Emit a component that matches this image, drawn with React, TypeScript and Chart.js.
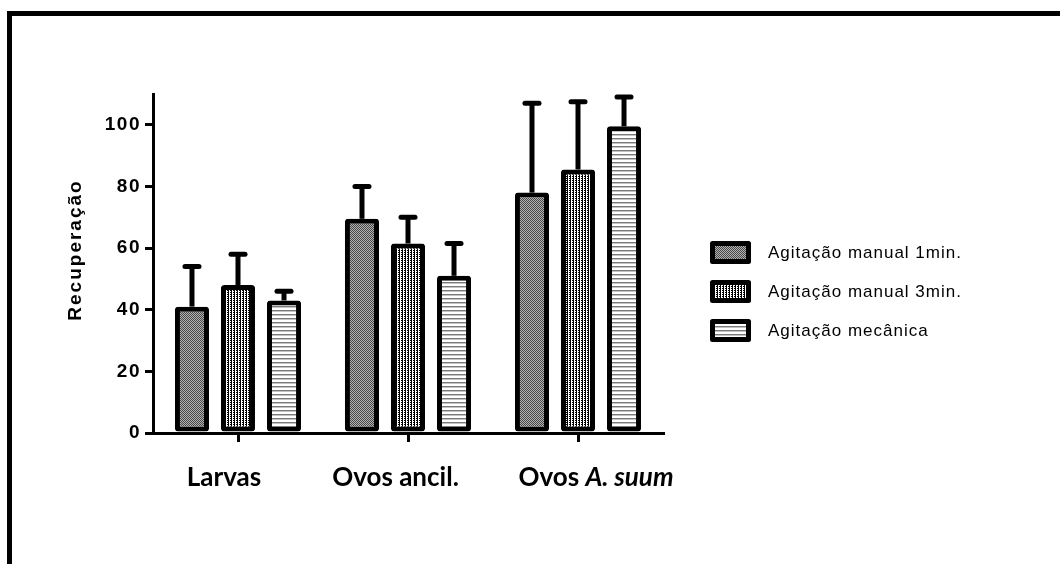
import React, { useEffect, useRef } from 'react';
import { Chart, registerables } from 'chart.js';

Chart.register(...registerables);

// ---------- data ----------
const categories = ['Larvas', 'Ovos ancil.', 'Ovos A. suum'];
const categoryLabelParts = [
  [{ text: 'Larvas', italic: false }],
  [{ text: 'Ovos ancil.', italic: false }],
  [
    { text: 'Ovos ', italic: false },
    { text: 'A. suum', italic: true },
  ],
];
const seriesLabels = ['Agitação manual 1min.', 'Agitação manual 3min.', 'Agitação mecânica'];
const manual1 = [41, 69.5, 78];
const manual3 = [48, 61.5, 85.5];
const mecanica = [43, 51, 99.5];
const manual1Err = [13, 10.5, 29];
const manual3Err = [10, 8.5, 22];
const mecanicaErr = [3, 10.5, 9.5];
const yTicks = [0, 20, 40, 60, 80, 100];
const yTitle = 'Recuperação';

const seriesValues = [manual1, manual3, mecanica];
const seriesErrors = [manual1Err, manual3Err, mecanicaErr];

// ---------- patterns ----------
function makePattern(w: number, h: number, cells: string[][]): CanvasPattern | string {
  const c = document.createElement('canvas');
  c.width = w;
  c.height = h;
  const g = c.getContext('2d')!;
  for (let y = 0; y < h; y++) {
    for (let x = 0; x < w; x++) {
      g.fillStyle = cells[y][x];
      g.fillRect(x, y, 1, 1);
    }
  }
  const p = g.createPattern(c, 'repeat');
  return p || '#888';
}

const FONT = '"Liberation Sans", Arial, sans-serif';

const decorPlugin = {
  id: 'decor',
  beforeDraw(chart: any) {
    const ctx = chart.ctx as CanvasRenderingContext2D;
    ctx.save();
    ctx.strokeStyle = '#000';
    ctx.lineWidth = 5;
    ctx.lineCap = 'butt';
    ctx.lineJoin = 'miter';
    ctx.beginPath();
    ctx.moveTo(9.5, chart.height);
    ctx.lineTo(9.5, 13.5);
    ctx.lineTo(chart.width, 13.5);
    ctx.stroke();
    ctx.restore();
    (ctx as any).letterSpacing = '1.5px';
  },
  afterDatasetsDraw(chart: any) {
    const ctx = chart.ctx as CanvasRenderingContext2D;
    (ctx as any).letterSpacing = '0px';
    const yScale = chart.scales.y;
    ctx.save();
    ctx.strokeStyle = '#000';
    for (let d = 0; d < seriesValues.length; d++) {
      const meta = chart.getDatasetMeta(d);
      meta.data.forEach((el: any, j: number) => {
        const top = yScale.getPixelForValue(seriesValues[d][j] + seriesErrors[d][j]);
        ctx.lineWidth = 5;
        ctx.lineCap = 'butt';
        ctx.beginPath();
        ctx.moveTo(el.x, el.y);
        ctx.lineTo(el.x, top);
        ctx.stroke();
        ctx.lineCap = 'round';
        ctx.beginPath();
        ctx.moveTo(el.x - 7, top);
        ctx.lineTo(el.x + 7, top);
        ctx.stroke();
      });
    }
    ctx.restore();
  },
  afterDraw(chart: any) {
    const ctx = chart.ctx as CanvasRenderingContext2D;
    (ctx as any).letterSpacing = '0px';

    // y title
    ctx.save();
    ctx.translate(76, 250);
    ctx.rotate(-Math.PI / 2);
    ctx.font = `bold 19px ${FONT}`;
    (ctx as any).letterSpacing = '2px';
    ctx.fillStyle = '#000';
    ctx.textAlign = 'center';
    ctx.textBaseline = 'middle';
    ctx.fillText(yTitle, 0, 0);
    ctx.restore();

    // legend
    ctx.save();
    chart.data.datasets.forEach((ds: any, i: number) => {
      const bx = 712.5;
      const by = 243.5 + i * 39;
      ctx.fillStyle = ds.backgroundColor;
      ctx.strokeStyle = '#000';
      ctx.lineWidth = 5;
      ctx.lineJoin = 'round';
      ctx.beginPath();
      ctx.rect(bx, by, 36, 18);
      ctx.fill();
      ctx.stroke();
      ctx.fillStyle = '#000';
      ctx.font = `17px ${FONT}`;
      (ctx as any).letterSpacing = '1px';
      ctx.textAlign = 'left';
      ctx.textBaseline = 'middle';
      ctx.fillText(ds.label, 768, by + 10);
      (ctx as any).letterSpacing = '0px';
    });
    ctx.restore();

    // category labels
    const xScale = chart.scales.x;
    const offsets = [-14, -12.5, 18];
    ctx.save();
    ctx.fillStyle = '#000';
    ctx.textBaseline = 'middle';
    ctx.textAlign = 'left';
    categoryLabelParts.forEach((parts, i) => {
      const cx = xScale.getPixelForTick(i) + offsets[i];
      const fonts = parts.map((p) => `${p.italic ? 'italic ' : ''}bold 26px Lato, "Open Sans", sans-serif`);
      let total = 0;
      const widths = parts.map((p, k) => {
        ctx.font = fonts[k];
        const w = ctx.measureText(p.text).width;
        total += w;
        return w;
      });
      let x = cx - total / 2;
      parts.forEach((p, k) => {
        ctx.font = fonts[k];
        ctx.fillText(p.text, x, 478);
        x += widths[k];
      });
    });
    ctx.restore();
  },
};

export default function App() {
  const canvasRef = useRef<HTMLCanvasElement | null>(null);

  useEffect(() => {
    const canvas = canvasRef.current;
    if (!canvas) return;

    const p1 = makePattern(2, 2, [
      ['#4a4a4a', '#b0b0b0'],
      ['#b0b0b0', '#4a4a4a'],
    ]);
    const p2 = makePattern(3, 2, [
      ['#000000', '#ffffff', '#000000'],
      ['#000000', '#ffffff', '#ffffff'],
    ]);
    const p3 = makePattern(1, 4, [['#ffffff'], ['#ffffff'], ['#7a7a7a'], ['#c4c4c4']]);
    const patterns = [p1, p2, p3];

    const chart = new Chart(canvas, {
      type: 'bar',
      data: {
        labels: categories,
        datasets: seriesValues.map((vals, i) => ({
          label: seriesLabels[i],
          data: vals,
          backgroundColor: patterns[i] as any,
          borderColor: '#000',
          borderWidth: 5,
          borderSkipped: false,
          borderRadius: 3,
          categoryPercentage: 0.812,
          barPercentage: 0.74,
        })),
      },
      options: {
        responsive: false,
        animation: false,
        devicePixelRatio: 1,
        layout: { padding: { top: 94, right: 397, left: 0, bottom: 0 } },
        plugins: {
          legend: { display: false },
          tooltip: { enabled: false },
          title: { display: false },
        },
        scales: {
          x: {
            offset: true,
            grid: {
              display: true,
              offset: false,
              drawOnChartArea: false,
              drawTicks: true,
              tickLength: 9,
              color: '#000',
              lineWidth: 3,
            },
            border: { display: true, color: '#000', width: 3 },
            ticks: { display: false },
            afterFit: (s: any) => {
              s.height = 131;
            },
          },
          y: {
            min: 0,
            max: 110,
            grid: {
              display: true,
              drawOnChartArea: false,
              drawTicks: true,
              tickLength: 8,
              color: '#000',
              lineWidth: 3,
            },
            border: { display: true, color: '#000', width: 3 },
            ticks: {
              color: '#000',
              font: { family: FONT, size: 19, weight: 'bold' },
              padding: 4,
            },
            afterBuildTicks: (s: any) => {
              s.ticks = yTicks.map((v) => ({ value: v }));
            },
            afterFit: (s: any) => {
              s.width = 153;
            },
          },
        },
      },
      plugins: [decorPlugin],
    });

    return () => chart.destroy();
  }, []);

  return (
    <div style={{ position: 'fixed', left: 0, top: 0, width: 1060, height: 564, background: '#fff' }}>
      <canvas ref={canvasRef} width={1060} height={564} style={{ display: 'block', width: 1060, height: 564 }} />
    </div>
  );
}
